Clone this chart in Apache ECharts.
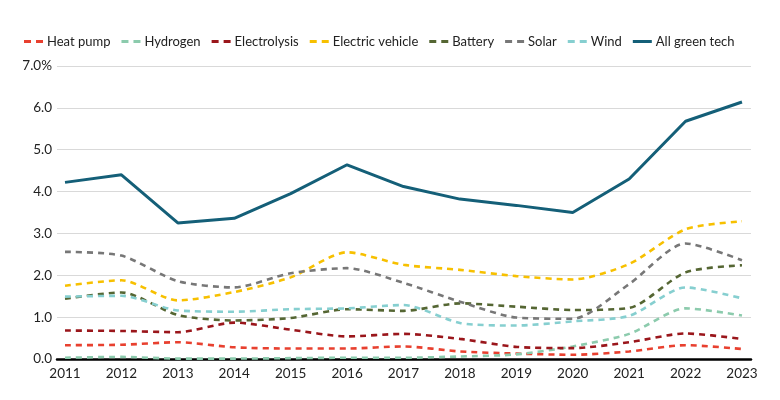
<!DOCTYPE html>
<html>
<head>
<meta charset="utf-8">
<script src="https://cdn.jsdelivr.net/npm/echarts@6/dist/echarts.min.js"></script>
<style>html,body{margin:0;padding:0;background:#fff;}#c{width:780px;height:400px;}</style>
</head>
<body>
<div id="c"></div>
<script>
var years = [2011,2012,2013,2014,2015,2016,2017,2018,2019,2020,2021,2022,2023];
var heatPump      = [0.33,0.34,0.40,0.28,0.25,0.25,0.30,0.18,0.13,0.10,0.18,0.33,0.24];
var hydrogen      = [0.03,0.05,0.01,0.01,0.02,0.03,0.03,0.06,0.11,0.30,0.60,1.21,1.04];
var electrolysis  = [0.68,0.67,0.64,0.87,0.70,0.54,0.60,0.48,0.29,0.26,0.40,0.61,0.48];
var electricVeh   = [1.75,1.88,1.40,1.60,1.95,2.55,2.25,2.13,1.98,1.90,2.27,3.10,3.29];
var battery       = [1.44,1.59,1.05,0.92,0.98,1.19,1.15,1.33,1.25,1.17,1.22,2.07,2.24];
var solar         = [2.56,2.47,1.86,1.71,2.05,2.17,1.82,1.37,0.99,0.96,1.79,2.76,2.36];
var wind          = [1.49,1.51,1.16,1.13,1.19,1.21,1.29,0.86,0.80,0.90,1.03,1.71,1.45];
var allGreen      = [4.22,4.40,3.25,3.36,3.95,4.64,4.12,3.82,3.67,3.50,4.30,5.68,6.14];
var seriesNames = ['Heat pump','Hydrogen','Electrolysis','Electric vehicle','Battery','Solar','Wind','All green tech'];
var yTicks = ['0.0','1.0','2.0','3.0','4.0','5.0','6.0','7.0%'];

var dashIcon = 'path://M0,0h7v3h-7zM12,0h7v3h-7z';
var solidIcon = 'path://M0,0h19v3h-19z';
function pairs(vals){ return years.map(function(y,i){ return [y, vals[i]]; }); }
function dashed(name, vals, color){
  return {name:name, type:'line', data:pairs(vals), symbol:'none', smooth:0.25,
    lineStyle:{color:color, width:2.6, type:[6,5]}, itemStyle:{color:color}};
}
var font = 'Lato';
var chart = echarts.init(document.getElementById('c'));
chart.setOption({
  animation:false,
  textStyle:{fontFamily:font},
  legend:{left:19, top:30, itemWidth:19, itemHeight:3, itemGap:11,
    data:seriesNames.map(function(n){ return {name:n, icon: n==='All green tech' ? solidIcon : dashIcon}; }),
    textStyle:{fontFamily:font, fontSize:13, color:'#222', padding:[0,0,0,-1]}},
  grid:{left:57, right:29, top:66, bottom:41},
  xAxis:{type:'value', min:2010.858, max:2023.16, minInterval:1, maxInterval:1,
    axisLine:{show:true, onZero:false, lineStyle:{color:'#000', width:2.5}},
    axisTick:{show:false}, splitLine:{show:false},
    axisLabel:{fontFamily:font, fontSize:13.5, color:'#222', margin:8,
      formatter:function(v){ return Math.abs(v-Math.round(v))<1e-6 ? String(Math.round(v)) : ''; }}},
  yAxis:{type:'value', min:0, max:7, interval:1,
    axisLine:{show:false}, axisTick:{show:false},
    splitLine:{lineStyle:{color:'#d9d9d9', width:1}},
    axisLabel:{fontFamily:font, fontSize:13.5, color:'#222', margin:5,
      formatter:function(v){ return yTicks[Math.round(v)]; }}},
  series:[
    dashed(seriesNames[0], heatPump, '#e8402f'),
    dashed(seriesNames[1], hydrogen, '#8ccbad'),
    dashed(seriesNames[2], electrolysis, '#9a161b'),
    dashed(seriesNames[3], electricVeh, '#f7c000'),
    dashed(seriesNames[4], battery, '#556633'),
    dashed(seriesNames[5], solar, '#777777'),
    dashed(seriesNames[6], wind, '#86cfd0'),
    {name:seriesNames[7], type:'line', data:pairs(allGreen), symbol:'none',
      lineStyle:{color:'#145f78', width:3}, itemStyle:{color:'#145f78'}}
  ]
});
</script>
</body>
</html>
